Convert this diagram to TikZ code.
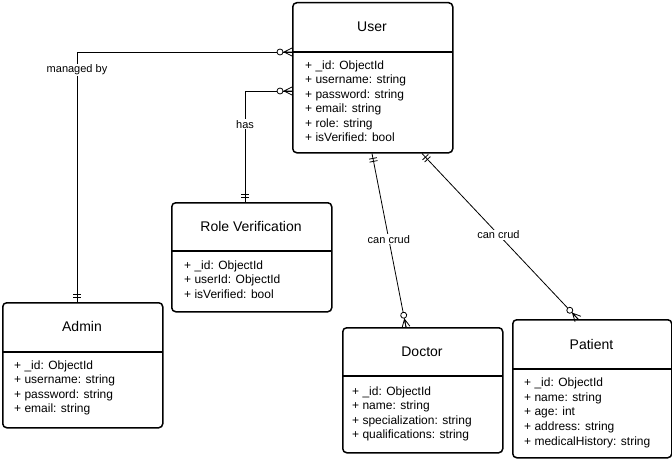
\documentclass[tikz,border=0pt]{standalone}
\usepackage{fontspec}
\setmainfont{Liberation Sans}
\usetikzlibrary{decorations.markings}

\tikzset{
  entity/.style={draw, line width=1.5pt, rounded corners=4pt, inner sep=0pt, anchor=north west},
  headline/.style={line width=1.5pt},
  etitle/.style={font=\fontsize{14}{16}\selectfont, inner sep=0pt},
  attr/.style={font=\fontsize{12}{14}\selectfont, anchor=west, inner sep=0pt, text height=11pt, text depth=1pt},
  link/.style={line width=0.8pt},
  lbl/.style={font=\fontsize{11}{13}\selectfont, fill=white, inner sep=1pt},
  % crow foot with circle, at the entity the path starts from / ends at
  zeromany start/.style={postaction={decorate, decoration={markings, mark=at position 0 with {
      \draw[line width=0.8pt] (0,4) -- (8,0) -- (0,-4) (0,0) -- (8,0);
      \draw[line width=0.8pt, fill=white] (12,0) circle (3pt);}}}},
  zeromany end/.style={postaction={decorate, decoration={markings, mark=at position 1 with {
      \draw[line width=0.8pt] (0,4) -- (-8,0) -- (0,-4) (0,0) -- (-8,0);
      \draw[line width=0.8pt, fill=white] (-12,0) circle (3pt);}}}},
  % two bars
  mandone start/.style={postaction={decorate, decoration={markings, mark=at position 0 with {
      \draw[line width=0.8pt] (5,4) -- (5,-4) (8,4) -- (8,-4);}}}},
  mandone end/.style={postaction={decorate, decoration={markings, mark=at position 1 with {
      \draw[line width=0.8pt] (-5,4) -- (-5,-4) (-8,4) -- (-8,-4);}}}}
}

\begin{document}
\begin{tikzpicture}[x=1pt, y=-1pt]
  \useasboundingbox (0,0) rectangle (672,460);
  % entities
  \node[entity, minimum width=160pt, minimum height=150pt] (user) at (292,2) {};
  \node[entity, minimum width=160pt, minimum height=109pt] (rolever) at (171,202) {};
  \node[entity, minimum width=160pt, minimum height=125pt] (admin) at (2,302) {};
  \node[entity, minimum width=160pt, minimum height=125pt] (doctor) at (342,327) {};
  \node[entity, minimum width=159pt, minimum height=138pt] (patient) at (512,319) {};
  % head lines
  \draw[headline] (292,52) -- (452,52);
  \draw[headline] (171,251) -- (331,251);
  \draw[headline] (2,352) -- (162,352);
  \draw[headline] (342,376) -- (502,376);
  \draw[headline] (512,369) -- (671,369);
  % titles
  \node[etitle] (user-t) at (372,26.5) {User};
  \node[etitle] (rolever-t) at (251,226.5) {Role Verification};
  \node[etitle] (admin-t) at (82,326.5) {Admin};
  \node[etitle] (doctor-t) at (422,352) {Doctor};
  \node[etitle] (patient-t) at (591.5,344.5) {Patient};
  % attributes
  \foreach \a [count=\i from 0] in {{+ \_id: ObjectId}, {+ username: string}, {+ password: string},
      {+ email: string}, {+ role: string}, {+ isVerified: bool}}
    \node[attr] (user-a\i) at (305,64.3+14.5*\i) {\a};
  \foreach \a [count=\i from 0] in {{+ \_id: ObjectId}, {+ userId: ObjectId}, {+ isVerified: bool}}
    \node[attr] (rolever-a\i) at (184,264+14.5*\i) {\a};
  \foreach \a [count=\i from 0] in {{+ \_id: ObjectId}, {+ username: string}, {+ password: string},
      {+ email: string}}
    \node[attr] (admin-a\i) at (14,364.3+14.5*\i) {\a};
  \foreach \a [count=\i from 0] in {{+ \_id: ObjectId}, {+ name: string}, {+ specialization: string},
      {+ qualifications: string}}
    \node[attr] (doctor-a\i) at (352,390+14.5*\i) {\a};
  \foreach \a [count=\i from 0] in {{+ \_id: ObjectId}, {+ name: string}, {+ age: int},
      {+ address: string}, {+ medicalHistory: string}}
    \node[attr] (patient-a\i) at (524,381.7+14.6*\i) {\a};
  % relations
  \draw[link, zeromany start, mandone end] (user.west |- 0,52) -| (admin.north -| 77,0)
    node[lbl, pos=0.536] (managed) {managed by};
  \draw[link, zeromany start, mandone end] (user.west |- 0,91) -| (rolever.north -| 245,0)
    node[lbl, pos=0.649] (has) {has};
  \draw[link, mandone start, zeromany end] (user.south -| 372,0) -- (doctor.north -| 406,0)
    node[lbl, pos=0.495] (crud1) {can crud};
  \draw[link, mandone start, zeromany end] (user.south -| 422,0) -- (patient.north -| 578,0)
    node[lbl, pos=0.49] (crud2) {can crud};
\end{tikzpicture}
\end{document}
